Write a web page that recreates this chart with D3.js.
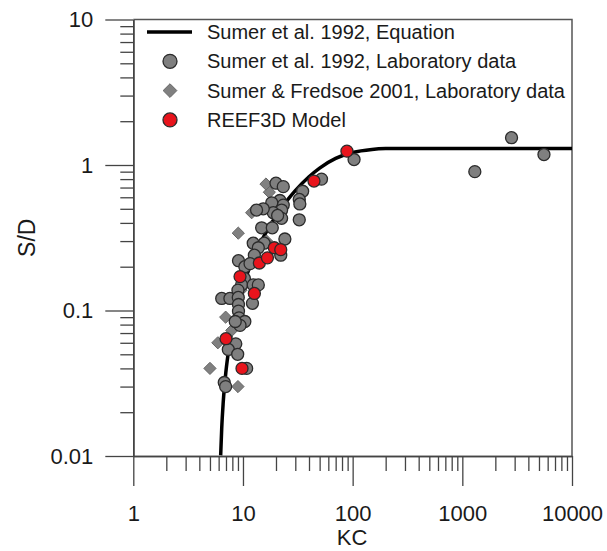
<!DOCTYPE html>
<html>
<head>
<meta charset="utf-8">
<script src="https://cdn.jsdelivr.net/npm/d3@7"></script>
<style>
  body { margin: 0; background: #fff; }
  text { font-family: "Liberation Sans", Arial, sans-serif; fill: #1a1a1a; }
</style>
</head>
<body>
<svg id="chart" width="607" height="551"></svg>
<script>
// Sumer et al. 1992 equation curve (KC, S/D)
const curveKC = [6.26, 6.4, 6.6, 7, 7.5, 8, 9, 10, 12, 15, 20, 25, 30, 40, 50, 70, 100, 150, 200, 300, 500, 1000, 10000];
const curveSD = [0.0101, 0.0155, 0.0232, 0.0384, 0.057, 0.076, 0.112, 0.147, 0.214, 0.308, 0.446, 0.565, 0.667, 0.831, 0.953, 1.11, 1.22, 1.28, 1.296, 1.3, 1.3, 1.3, 1.3];

// Sumer et al. 1992, laboratory data
const labKC = [1300, 2810, 5550, 103, 52, 35, 32.6, 33, 32.6, 20, 23.3, 21.7, 23.3, 18.3, 22.5, 18.9, 15.3, 13.3, 22.5, 20.7,
  14.8, 18.5, 24.1, 12.4, 15.6, 13.8, 12.7, 22.1, 9.1, 10.4, 11.6, 10.3, 9.7, 12.4, 13.8, 12.2, 6.4, 7.6, 9.0, 9.06,
  9.1, 9.1, 9.2, 10.4, 9.4, 8.6, 7.35, 8.95, 10.8, 6.75, 6.95, 8.5];
const labSD = [0.90, 1.54, 1.18, 1.09, 0.80, 0.66, 0.58, 0.54, 0.42, 0.75, 0.71, 0.57, 0.53, 0.55, 0.49, 0.47, 0.50, 0.49, 0.43, 0.45,
  0.37, 0.37, 0.31, 0.29, 0.29, 0.27, 0.24, 0.24, 0.22, 0.20, 0.21, 0.166, 0.15, 0.15, 0.15, 0.112, 0.121, 0.121, 0.138, 0.123,
  0.110, 0.099, 0.089, 0.084, 0.079, 0.059, 0.054, 0.050, 0.040, 0.032, 0.030, 0.084];

// Sumer & Fredsoe 2001, laboratory data
const sfKC = [17.4, 16.2, 12.0, 9.06, 18.0, 16.4, 6.95, 7.9, 5.9, 5.0, 9.0, 9.6];
const sfSD = [0.65, 0.74, 0.47, 0.34, 0.375, 0.30, 0.090, 0.073, 0.060, 0.040, 0.030, 0.138];

// REEF3D model
const modelKC = [7.0, 9.8, 9.4, 12.7, 14.1, 16.7, 19.3, 22.1, 44.4, 88.7];
const modelSD = [0.064, 0.040, 0.171, 0.131, 0.212, 0.230, 0.270, 0.262, 0.776, 1.245];

const xMajor = [1, 10, 100, 1000, 10000];
const yMajor = [0.01, 0.1, 1, 10];
const legendLabels = ['Sumer et al. 1992, Equation', 'Sumer et al. 1992, Laboratory data',
  'Sumer & Fredsoe 2001, Laboratory data', 'REEF3D Model'];

const svg = d3.select('#chart');
const mLeft = 133.3, mRight = 572, mTop = 19.5, mBottom = 456;

const x = d3.scaleLog().domain([1, 10000]).range([mLeft, mRight]);
const y = d3.scaleLog().domain([0.01, 10]).range([mBottom, mTop]);

// minor tick values for each decade
const minors = (lo, hi) => {
  const out = [];
  for (let d = lo; d < hi; d *= 10) for (let k = 2; k <= 9; k++) out.push(d * k);
  return out;
};

const axisColor = '#444';

// x axis
const gx = svg.append('g').attr('transform', `translate(0,${mBottom})`);
gx.call(d3.axisBottom(x).tickValues(minors(1, 10000)).tickSize(15).tickSizeOuter(0).tickFormat(''));
gx.append('g').call(d3.axisBottom(x).tickValues(xMajor).tickSize(30).tickSizeOuter(0).tickFormat(d3.format('d')));
gx.selectAll('.domain').attr('stroke', axisColor).attr('stroke-width', 1.5);
gx.selectAll('line').attr('stroke', axisColor).attr('stroke-width', 1.3);
gx.selectAll('text').attr('font-size', 22).attr('y', 65).attr('dy', 0).style('fill', '#1a1a1a');

// y axis
const gy = svg.append('g').attr('transform', `translate(${mLeft},0)`);
gy.call(d3.axisLeft(y).tickValues(minors(0.01, 10)).tickSize(13).tickSizeOuter(0).tickFormat(''));
gy.append('g').call(d3.axisLeft(y).tickValues(yMajor).tickSize(28).tickSizeOuter(0).tickFormat(d => String(d)));
gy.selectAll('.domain').attr('stroke', axisColor).attr('stroke-width', 1.5);
gy.selectAll('line').attr('stroke', axisColor).attr('stroke-width', 1.3);
gy.selectAll('text').attr('font-size', 22).attr('x', -40).style('fill', '#1a1a1a');

// frame top and right
svg.append('path')
  .attr('d', `M${mLeft},${mTop}H${mRight}V${mBottom}`)
  .attr('fill', 'none').attr('stroke', '#555').attr('stroke-width', 1.5);

// axis titles
svg.append('text').attr('x', 352).attr('y', 545)
  .attr('text-anchor', 'middle').attr('font-size', 22).text('KC');
svg.append('text').attr('transform', `translate(35,${(mTop + mBottom) / 2}) rotate(-90)`)
  .attr('text-anchor', 'middle').attr('font-size', 23).text('S/D');

const plot = svg.append('g');

// equation curve
const line = d3.line().x(d => x(d[0])).y(d => y(d[1])).curve(d3.curveMonotoneX);
plot.append('path')
  .datum(d3.zip(curveKC, curveSD))
  .attr('d', line)
  .attr('fill', 'none').attr('stroke', '#000').attr('stroke-width', 3.5);

const diamond = d3.symbol().type(d3.symbolDiamond2).size(95);

plot.selectAll('path.sf')
  .data(d3.zip(sfKC, sfSD))
  .join('path').attr('class', 'sf')
  .attr('d', diamond)
  .attr('transform', d => `translate(${x(d[0])},${y(d[1])})`)
  .attr('fill', '#808080').attr('stroke', '#666').attr('stroke-width', 1);

plot.selectAll('circle.lab')
  .data(d3.zip(labKC, labSD))
  .join('circle').attr('class', 'lab')
  .attr('cx', d => x(d[0])).attr('cy', d => y(d[1])).attr('r', 6)
  .attr('fill', '#7f7f7f').attr('stroke', '#2b2b2b').attr('stroke-width', 1.3);

plot.selectAll('circle.model')
  .data(d3.zip(modelKC, modelSD))
  .join('circle').attr('class', 'model')
  .attr('cx', d => x(d[0])).attr('cy', d => y(d[1])).attr('r', 6)
  .attr('fill', '#e8141c').attr('stroke', '#2b2b2b').attr('stroke-width', 1.3);

// legend
const lg = svg.append('g');
const rowY = i => 32 + i * 29.3;
lg.append('line').attr('x1', 147).attr('x2', 192).attr('y1', rowY(0)).attr('y2', rowY(0))
  .attr('stroke', '#000').attr('stroke-width', 3.5);
lg.append('circle').attr('cx', 170).attr('cy', rowY(1)).attr('r', 7)
  .attr('fill', '#7f7f7f').attr('stroke', '#2b2b2b').attr('stroke-width', 1.3);
lg.append('path').attr('d', d3.symbol().type(d3.symbolDiamond2).size(120))
  .attr('transform', `translate(170,${rowY(2)})`)
  .attr('fill', '#808080').attr('stroke', '#666').attr('stroke-width', 1);
lg.append('circle').attr('cx', 170).attr('cy', rowY(3)).attr('r', 7)
  .attr('fill', '#e8141c').attr('stroke', '#2b2b2b').attr('stroke-width', 1.3);
lg.selectAll('text')
  .data(legendLabels)
  .join('text')
  .attr('x', 207).attr('y', (d, i) => rowY(i)).attr('dy', '0.35em')
  .attr('font-size', 20).text(d => d);
</script>
</body>
</html>
